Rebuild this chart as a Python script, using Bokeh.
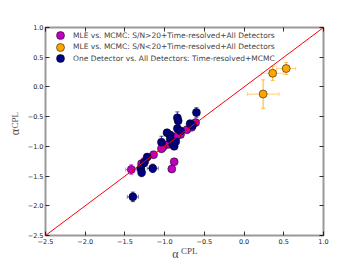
import math
from bokeh.plotting import figure
from bokeh.models import (ColumnDataSource, Whisker, TeeHead, Legend, LegendItem,
                          LinearAxis, FixedTicker, Label, Range1d)
from bokeh.embed import file_html
from bokeh.resources import INLINE

# ---- data ----
mag_x = [-0.61, -0.66, -0.72, -0.80, -0.85, -0.96, -1.02, -1.04, -1.14, -1.25, -1.29, -1.42, -0.88, -0.91]
mag_y = [-0.60, -0.68, -0.72, -0.80, -0.83, -0.97, -1.01, -1.04, -1.14, -1.25, -1.29, -1.39, -1.26, -1.38]
mag_xe = [0.03, 0.03, 0.03, 0.03, 0.03, 0.04, 0.03, 0.04, 0.04, 0.04, 0.04, 0.07, 0.02, 0.02]
mag_ye = [0.03, 0.03, 0.03, 0.03, 0.04, 0.04, 0.04, 0.05, 0.05, 0.05, 0.05, 0.08, 0.03, 0.03]

org_x = [0.24, 0.36, 0.53]
org_y = [-0.12, 0.23, 0.31]
org_xe = [0.20, 0.14, 0.12]
org_ye = [0.24, 0.12, 0.10]

nav_x = [-0.60, -0.84, -0.83, -0.68, -0.65, -0.84, -0.80, -0.97, -0.93, -0.93, -1.04, -0.90, -0.88,
         -0.86, -1.22, -1.26, -1.30, -1.15, -1.29, -1.40]
nav_y = [-0.43, -0.52, -0.57, -0.62, -0.65, -0.70, -0.74, -0.77, -0.81, -0.87, -0.93, -0.96, -1.00,
         -0.92, -1.18, -1.28, -1.37, -1.37, -1.44, -1.85]
nav_xe = [0.03, 0.03, 0.03, 0.03, 0.03, 0.03, 0.03, 0.03, 0.03, 0.03, 0.03, 0.03, 0.03,
          0.03, 0.03, 0.04, 0.04, 0.07, 0.04, 0.07]
nav_ye = [0.08, 0.10, 0.06, 0.06, 0.05, 0.05, 0.05, 0.05, 0.06, 0.05, 0.10, 0.05, 0.05,
          0.05, 0.05, 0.06, 0.06, 0.07, 0.07, 0.08]

diag = [-2.5, 1.0]
ticks = [-2.5, -2.0, -1.5, -1.0, -0.5, 0.0, 0.5, 1.0]
labels = ["MLE vs. MCMC: S/N>20+Time-resolved+All Detectors",
          "MLE vs. MCMC: S/N<20+Time-resolved+All Detectors",
          "One Detector vs. All Detectors: Time-resolved+MCMC"]

W, H = 360, 270
p = figure(width=W, height=H, output_backend="svg", toolbar_location=None,
           x_range=Range1d(-2.5, 1.0), y_range=Range1d(-2.5, 1.0),
           min_border_left=44, min_border_right=37, min_border_top=27, min_border_bottom=26)
p.grid.visible = False
p.outline_line_color = "#999999"
p.outline_line_width = 2
p.background_fill_color = "white"

overrides = {t: ("%.1f" % t).replace("-", "\u2212") for t in ticks}
for ax in (p.xaxis[0], p.yaxis[0]):
    ax.ticker = FixedTicker(ticks=ticks)
    ax.major_label_overrides = overrides
    ax.major_label_text_font = "DejaVu Sans"
    ax.major_label_text_font_size = "6.5px"
    ax.major_label_text_color = "#222222"
    ax.major_tick_in = 4
    ax.major_tick_out = 0
    ax.minor_tick_line_color = None
    ax.axis_line_color = None
    ax.major_label_standoff = 3
    ax.major_tick_line_color = "black"
    ax.major_tick_line_width = 0.8
p.yaxis[0].major_label_standoff = 2

for loc in ("right", "above"):
    a = LinearAxis(ticker=FixedTicker(ticks=ticks), major_label_text_color=None,
                   major_label_text_font_size="6px",
                   axis_line_color=None, major_tick_in=4, major_tick_out=0,
                   minor_tick_line_color=None, major_label_standoff=0,
                   major_tick_line_width=0.8)
    p.add_layout(a, loc)

def series(xs, ys, xe, ye, color):
    src = ColumnDataSource(dict(x=xs, y=ys,
                                xl=[a - b for a, b in zip(xs, xe)], xu=[a + b for a, b in zip(xs, xe)],
                                yl=[a - b for a, b in zip(ys, ye)], yu=[a + b for a, b in zip(ys, ye)]))
    wx = Whisker(source=src, base="y", lower="xl", upper="xu", dimension="width",
                 line_color=color, line_alpha=0.45, line_width=1.2,
                 lower_head=TeeHead(size=4, line_color=color, line_alpha=0.45),
                 upper_head=TeeHead(size=4, line_color=color, line_alpha=0.45))
    wy = Whisker(source=src, base="x", lower="yl", upper="yu", dimension="height",
                 line_color=color, line_alpha=0.7, line_width=1.2,
                 lower_head=TeeHead(size=4, line_color=color, line_alpha=0.7),
                 upper_head=TeeHead(size=4, line_color=color, line_alpha=0.7))
    p.add_layout(wx)
    p.add_layout(wy)
    r = p.scatter("x", "y", source=src, size=8, fill_color=color,
                  line_color="black", line_width=0.5)
    return r

r1 = series(mag_x, mag_y, mag_xe, mag_ye, "#BF00BF")
r2 = series(org_x, org_y, org_xe, org_ye, "#FFA500")
r3 = series(nav_x, nav_y, nav_xe, nav_ye, "#000080")

p.line(diag, diag, line_color="red", line_width=1)

# one legend per entry so rows can sit closer than the marker box
for lab, rend, vy in zip(labels, [r1, r2, r3], [190, 178.5, 167]):
    lg = Legend(items=[LegendItem(label=lab, renderers=[rend])],
                location=(5, vy), margin=0, padding=0, glyph_width=20, glyph_height=20,
                label_height=20, spacing=0, label_standoff=3,
                label_text_font="DejaVu Sans", label_text_font_size="7.5px",
                label_text_baseline="middle",
                border_line_color=None, background_fill_alpha=0)
    p.add_layout(lg)

# axis titles (serif alpha with CPL superscript) in the side panels
p.add_layout(Label(x=130, y=7, x_units="screen", y_units="screen", text="\u03b1",
                   text_font="Liberation Serif", text_font_size="12px",
                   text_align="center", text_baseline="middle"), "below")
p.add_layout(Label(x=135.5, y=19.5, x_units="screen", y_units="screen", text="CPL",
                   text_font="Liberation Serif", text_font_size="9px",
                   text_align="left", text_baseline="middle"), "below")
p.add_layout(Label(x=4, y=103.5, x_units="screen", y_units="screen", text="\u03b1",
                   angle=math.pi / 2, text_font="Liberation Serif", text_font_size="12px",
                   text_align="center", text_baseline="middle"), "left")
p.add_layout(Label(x=14.5, y=107, x_units="screen", y_units="screen", text="CPL",
                   angle=math.pi / 2, text_font="Liberation Serif", text_font_size="9px",
                   text_align="left", text_baseline="middle"), "left")

open("out.html", "w").write(file_html(p, INLINE))
